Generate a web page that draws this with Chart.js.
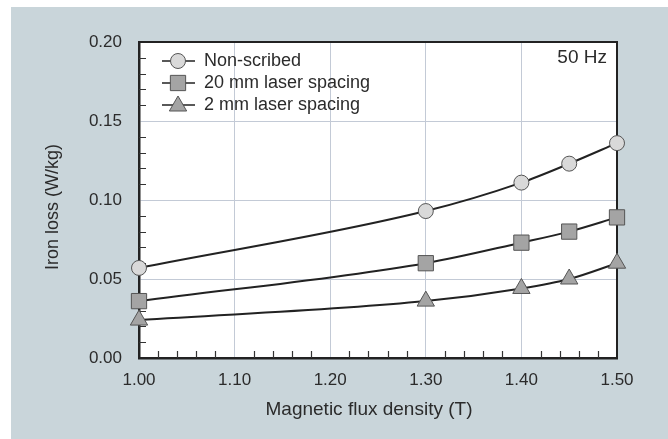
<!DOCTYPE html>
<html>
<head>
<meta charset="utf-8">
<script src="https://cdn.jsdelivr.net/npm/chart.js@4/dist/chart.umd.min.js"></script>
<style>
html,body{margin:0;padding:0;background:#ffffff;}
#wrap{width:668px;height:439px;position:relative;}
</style>
</head>
<body>
<div id="wrap"><canvas id="c" width="668" height="439"></canvas></div>
<script>
// ---- data ----
const fluxDensity = [1.00, 1.30, 1.40, 1.45, 1.50];
const nonScribed  = [0.057, 0.093, 0.111, 0.123, 0.136];
const spacing20mm = [0.036, 0.060, 0.073, 0.080, 0.089];
const spacing2mm  = [0.024, 0.036, 0.044, 0.050, 0.060];
const seriesNames = ['Non-scribed', '20 mm laser spacing', '2 mm laser spacing'];
const xTickValues = [1.00, 1.10, 1.20, 1.30, 1.40, 1.50];
const yTickValues = [0.00, 0.05, 0.10, 0.15, 0.20];
const xTitle = 'Magnetic flux density (T)';
const yTitle = 'Iron loss (W/kg)';
const freqLabel = '50 Hz';

const FONT = '"Liberation Sans", Arial, Helvetica, sans-serif';
const TXT = '#2b2b2b';
const LINE = '#222222';

function pts(arr){ return fluxDensity.map((x,i)=>({x:x, y:arr[i]})); }

const styles = [
  {pointStyle:'circle',   radius:7.5, bg:'#d9d9d9', bd:'#555555'},
  {pointStyle:'rect',     radius:10.8, bg:'#a4a4a4', bd:'#555555'},
  {pointStyle:'triangle', radius:10, bg:'#a4a4a4', bd:'#555555'}
];

function ds(label, arr, st){
  return {
    label: label,
    data: pts(arr),
    borderColor: LINE,
    borderWidth: 2,
    pointStyle: st.pointStyle,
    pointRadius: st.radius,
    pointHoverRadius: st.radius,
    pointBackgroundColor: st.bg,
    pointBorderColor: st.bd,
    pointBorderWidth: 1,
    cubicInterpolationMode: 'monotone',
    fill: false,
    clip: false
  };
}

const decor = {
  id: 'decor',
  beforeDraw(chart){
    const ctx = chart.ctx, a = chart.chartArea;
    ctx.save();
    ctx.fillStyle = '#ffffff';
    ctx.fillRect(0,0,chart.width,chart.height);
    ctx.fillStyle = '#c9d5da';
    ctx.fillRect(11,7,chart.width-11,chart.height-7);
    ctx.fillStyle = '#ffffff';
    ctx.fillRect(a.left,a.top,a.right-a.left,a.bottom-a.top);
    ctx.restore();
  },
  beforeDatasetsDraw(chart){
    const ctx = chart.ctx, a = chart.chartArea;
    const xs = chart.scales.x, ys = chart.scales.y;
    ctx.save();
    // top and right frame
    ctx.strokeStyle = LINE;
    ctx.lineWidth = 2;
    ctx.beginPath();
    ctx.moveTo(a.left, a.top);
    ctx.lineTo(a.right, a.top);
    ctx.lineTo(a.right, a.bottom);
    ctx.stroke();
    // minor ticks (inward)
    ctx.lineWidth = 1.2;
    ctx.strokeStyle = '#333333';
    ctx.beginPath();
    for (let i=1;i<25;i++){
      if (i%5===0) continue;
      const px = Math.round(xs.getPixelForValue(1 + i*0.02)) + 0.5;
      ctx.moveTo(px, a.bottom);
      ctx.lineTo(px, a.bottom - 7);
    }
    for (let j=1;j<20;j++){
      if (j%5===0) continue;
      const py = Math.round(ys.getPixelForValue(j*0.01)) + 0.5;
      ctx.moveTo(a.left, py);
      ctx.lineTo(a.left + 7, py);
    }
    ctx.stroke();
    ctx.restore();
  },
  afterDraw(chart){
    const ctx = chart.ctx, a = chart.chartArea;
    ctx.save();
    // legend
    const ly = [61, 83, 105];
    for (let k=0;k<3;k++){
      const y = ly[k];
      ctx.strokeStyle = LINE;
      ctx.lineWidth = 1.5;
      ctx.beginPath();
      ctx.moveTo(162, y);
      ctx.lineTo(195, y);
      ctx.stroke();
      const st = styles[k];
      ctx.fillStyle = st.bg;
      ctx.strokeStyle = st.bd;
      ctx.lineWidth = 1;
      Chart.helpers.drawPoint(ctx, {pointStyle: st.pointStyle, radius: st.radius, rotation: 0, borderWidth: 1}, 178, k===2 ? y+1 : y);
      ctx.fillStyle = TXT;
      ctx.font = '18px ' + FONT;
      ctx.textAlign = 'left';
      ctx.textBaseline = 'middle';
      ctx.fillText(seriesNames[k], 204, y);
    }
    // frequency label
    ctx.font = '19px ' + FONT;
    ctx.textAlign = 'right';
    ctx.textBaseline = 'middle';
    ctx.fillText(freqLabel, 607, 58);
    // axis titles
    ctx.font = '19px ' + FONT;
    ctx.textAlign = 'center';
    ctx.textBaseline = 'middle';
    ctx.fillText(xTitle, 369, 410);
    ctx.font = '18px ' + FONT;
    ctx.translate(53, 207);
    ctx.rotate(-Math.PI/2);
    ctx.fillText(yTitle, 0, 0);
    ctx.restore();
  }
};

new Chart(document.getElementById('c'), {
  type: 'line',
  data: {
    datasets: [
      ds(seriesNames[0], nonScribed, styles[0]),
      ds(seriesNames[1], spacing20mm, styles[1]),
      ds(seriesNames[2], spacing2mm, styles[2])
    ]
  },
  options: {
    responsive: false,
    animation: false,
    events: [],
    layout: { autoPadding: false, padding: { left: 0, top: 42, right: 51, bottom: 0 } },
    plugins: { legend: { display: false }, tooltip: { enabled: false } },
    scales: {
      x: {
        type: 'linear',
        min: 1.0, max: 1.5,
        afterFit(s){ s.height = 81; },
        afterBuildTicks(s){ s.ticks = xTickValues.map(v=>({value:v})); },
        ticks: { padding: 12, color: TXT, font: { family: FONT, size: 17 }, callback: v => Number(v).toFixed(2), maxRotation: 0 },
        grid: { drawTicks: false, lineWidth: 1,
          color: c => (c.tick && (Math.abs(c.tick.value-1.0)<1e-6 || Math.abs(c.tick.value-1.5)<1e-6)) ? 'rgba(0,0,0,0)' : '#c3cad6' },
        border: { display: true, color: LINE, width: 2.5 }
      },
      y: {
        type: 'linear',
        min: 0, max: 0.2,
        afterFit(s){ s.width = 139; },
        afterBuildTicks(s){ s.ticks = yTickValues.map(v=>({value:v})); },
        ticks: { padding: 17, color: TXT, font: { family: FONT, size: 17 }, callback: v => Number(v).toFixed(2) },
        grid: { drawTicks: false, lineWidth: 1,
          color: c => (c.tick && (Math.abs(c.tick.value)<1e-6 || Math.abs(c.tick.value-0.2)<1e-6)) ? 'rgba(0,0,0,0)' : '#c3cad6' },
        border: { display: true, color: LINE, width: 2.5 }
      }
    }
  },
  plugins: [decor]
});
</script>
</body>
</html>
